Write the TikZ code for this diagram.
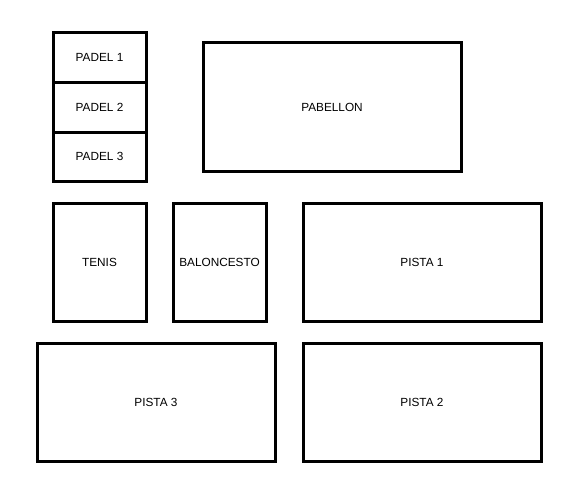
\documentclass[tikz,border=0pt]{standalone}
\usepackage{fontspec}
\setmainfont{Liberation Sans}
\begin{document}
\begin{tikzpicture}[x=1pt,y=-1pt,
  zone/.style={draw=black,line width=3pt,fill=white,rectangle,inner sep=0pt,outer sep=0pt,
    font=\fontsize{11.8}{13}\selectfont,text=black}]
\useasboundingbox (0,0) rectangle (585,495);
\fill[white] (0,0) rectangle (585,495);
\node[zone,minimum width=93pt,minimum height=49pt] (p1) at (99.5,57.5) {PADEL 1};
\node[zone,minimum width=93pt,minimum height=50pt] (p2) at (99.5,107) {PADEL 2};
\node[zone,minimum width=93pt,minimum height=49pt] (p3) at (99.5,156.5) {PADEL 3};
\node[zone,minimum width=258pt,minimum height=128pt] (pab) at (332,107) {PABELLON};
\node[zone,minimum width=93pt,minimum height=118pt] (ten) at (99.5,262) {TENIS};
\node[zone,minimum width=93pt,minimum height=118pt] (bal) at (219.5,262) {BALONCESTO};
\node[zone,minimum width=238pt,minimum height=118pt] (pi1) at (422,262) {PISTA 1};
\node[zone,minimum width=238pt,minimum height=118pt] (pi3) at (156,402) {PISTA 3};
\node[zone,minimum width=238pt,minimum height=118pt] (pi2) at (422,402) {PISTA 2};
\end{tikzpicture}
\end{document}
